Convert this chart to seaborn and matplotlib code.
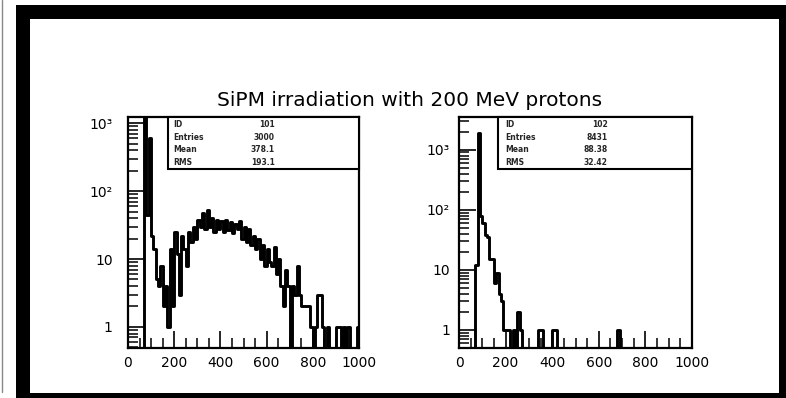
import numpy as np
import pandas as pd
import matplotlib
matplotlib.use("Agg")
import matplotlib.pyplot as plt
import seaborn as sns
from matplotlib.patches import Rectangle
from matplotlib.lines import Line2D
from matplotlib.ticker import MultipleLocator, LogLocator, NullFormatter

# ---------------- data ----------------
title = "SiPM irradiation with 200 MeV protons"
bin_width = 10
n_bins = 100

left_counts = [
    0, 0, 0, 0, 0, 0, 0, 2000, 45, 600,
    22, 14, 5, 4, 8, 2, 4, 1, 14, 2,
    25, 12, 3, 22, 14, 8, 25, 18, 30, 20,
    38, 30, 48, 28, 52, 30, 40, 25, 38, 28,
    36, 25, 38, 27, 35, 24, 33, 28, 36, 20,
    30, 18, 28, 16, 22, 14, 20, 10, 16, 8,
    14, 9, 8, 15, 6, 10, 4, 2, 7, 4,
    0, 4, 3, 8, 3, 2, 2, 2, 2, 1,
    0, 1, 3, 3, 1, 0, 1, 0, 0, 0,
    1, 1, 0, 1, 0, 1, 0, 0, 0, 1,
]

right_counts = [
    0, 0, 0, 0, 0, 0, 0, 12, 1900, 80,
    60, 38, 35, 15, 15, 6, 9, 4, 3, 1,
    1, 1, 0, 1, 0, 2, 1, 0, 0, 0,
    0, 0, 0, 0, 1, 1, 0, 0, 0, 0,
    1, 1, 0, 0, 0, 0, 0, 0, 0, 0,
    0, 0, 0, 0, 0, 0, 0, 0, 0, 0,
    0, 0, 0, 0, 0, 0, 0, 0, 1, 0,
    0, 0, 0, 0, 0, 0, 0, 0, 0, 0,
    0, 0, 0, 0, 0, 0, 0, 0, 0, 0,
    0, 0, 0, 0, 0, 0, 0, 0, 0, 0,
]

stat_names = ["ID", "Entries", "Mean", "RMS"]
left_stats = ["101", "3000", "378.1", "193.1"]
right_stats = ["102", "8431", "88.38", "32.42"]

x_ticks = [0, 200, 400, 600, 800, 1000]
x_tick_labels = ["0", "200", "400", "600", "800", "1000"]
y_ticks = [1, 10, 100, 1000]
y_tick_labels = ["1", "10", "10\u00b2", "10\u00b3"]

left_ylim = (0.49, 1230)
right_ylim = (0.5, 3500)

# ---------------- figure ----------------
sns.set_theme(style="white")
plt.rcParams["font.family"] = ["DejaVu Sans"]

W, H = 786, 398
fig = plt.figure(figsize=(W / 100, H / 100), dpi=100)
fig.patch.set_facecolor("white")

# outer PAW frame
fig.patches.append(Rectangle((16 / W, 0), (W - 16) / W, (H - 5) / H,
                             transform=fig.transFigure, facecolor="black",
                             edgecolor="none", zorder=-10))
fig.patches.append(Rectangle((30 / W, (H - 393) / H), (779 - 30) / W, (393 - 19) / H,
                             transform=fig.transFigure, facecolor="white",
                             edgecolor="none", zorder=-9))
fig.lines.append(Line2D([1.5 / W, 1.5 / W], [(H - 392) / H, 1], transform=fig.transFigure,
                        color="#888888", lw=1.0, zorder=-8))

centers = [(i + 0.5) * bin_width for i in range(n_bins)]


def px_axes(x0, x1, y0, y1):
    return [x0 / W, 1 - y1 / H, (x1 - x0) / W, (y1 - y0) / H]


axL = fig.add_axes(px_axes(128, 359, 117, 348))
axR = fig.add_axes(px_axes(459, 692, 117, 348))

panels = [
    (axL, left_counts, left_ylim, left_stats, 0.173, 0.195, 0.636, 11),
    (axR, right_counts, right_ylim, right_stats, 0.167, 0.197, 0.639, 6.5),
]

for ax, counts, ylim, stats, box_x, lab_x, val_x, ypad in panels:
    ax.set_zorder(5)
    df = pd.DataFrame({"x": centers, "count": counts})
    sns.histplot(data=df, x="x", weights="count", binwidth=bin_width,
                 binrange=(0, n_bins * bin_width), element="step",
                 fill=False, color="black", linewidth=2.1, ax=ax)
    ax.set_yscale("log")
    ax.set_xlim(0, 1000)
    ax.set_ylim(*ylim)
    ax.set_xlabel("")
    ax.set_ylabel("")
    ax.set_facecolor("white")
    for s in ax.spines.values():
        s.set_visible(True)
        s.set_color("black")
        s.set_linewidth(1.6)
    ax.set_xticks(x_ticks, labels=x_tick_labels)
    ax.xaxis.set_minor_locator(MultipleLocator(50))
    ax.set_yticks(y_ticks, labels=y_tick_labels)
    ax.yaxis.set_minor_locator(LogLocator(base=10, subs=np.arange(2, 10)))
    ax.yaxis.set_minor_formatter(NullFormatter())
    ax.tick_params(axis="both", which="major", direction="in", length=12.5, width=1.2,
                   labelsize=10, colors="black", left=True, bottom=True,
                   top=False, right=False)
    ax.tick_params(axis="both", which="minor", direction="in", length=7, width=1.1,
                   left=True, bottom=True, top=False, right=False, color="black")
    ax.tick_params(axis="y", which="major", pad=ypad)
    ax.tick_params(axis="x", which="major", pad=6)

    # statistics box
    ax.add_patch(Rectangle((box_x, 0.775), 1 - box_x, 0.225, transform=ax.transAxes,
                           facecolor="white", edgecolor="black", lw=1.5, zorder=5,
                           clip_on=False))
    rows_y = [0.968, 0.913, 0.858, 0.805]
    for name, val, ry in zip(stat_names, stats, rows_y):
        ax.text(lab_x, ry, name, transform=ax.transAxes, fontsize=5.5,
                fontweight="bold", va="center", ha="left", zorder=6)
        ax.text(val_x, ry, val, transform=ax.transAxes, fontsize=5.5,
                fontweight="bold", va="center", ha="right", zorder=6)

fig.text(410 / W, 1 - 100 / H, title, ha="center", va="center", fontsize=14.5,
         color="black", zorder=6)

fig.savefig("out.png", dpi=100, facecolor="white")
